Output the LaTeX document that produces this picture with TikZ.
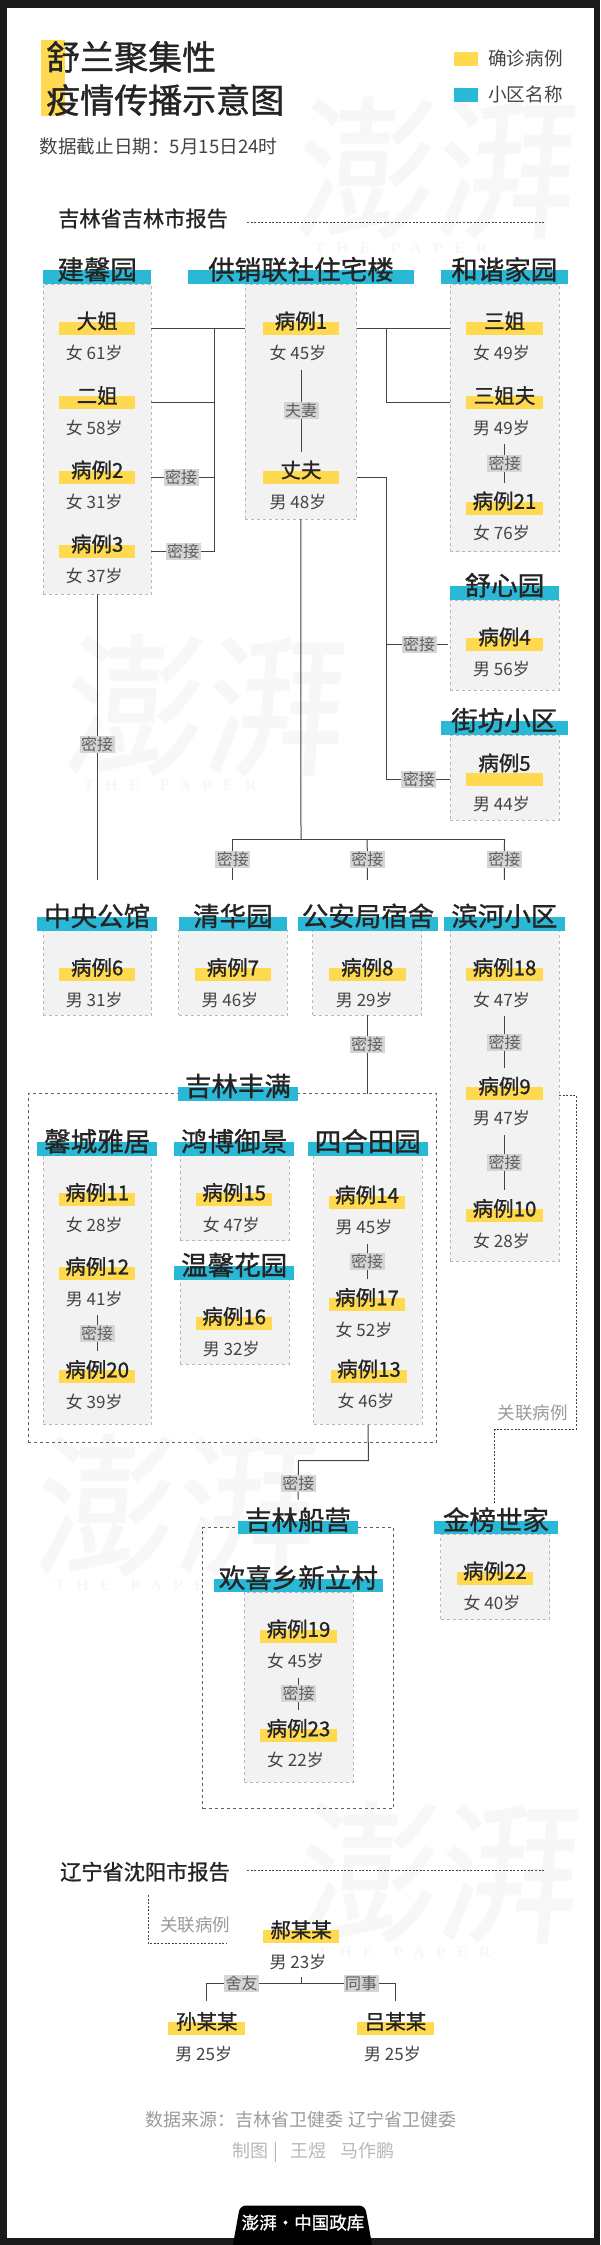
\documentclass[tikz,border=0pt]{standalone}
\usepackage{fontspec}
\setmainfont{Noto Sans CJK SC}
\newfontfamily\medfont[FakeBold=1.1]{Noto Sans CJK SC}
\newfontfamily\markfont[LetterSpace=70]{Liberation Serif}

\definecolor{frameblack}{HTML}{1A1A1A}
\definecolor{caseyellow}{HTML}{FFD94F}
\definecolor{estatecyan}{HTML}{29B9D7}
\definecolor{panelgray}{HTML}{F2F2F2}
\definecolor{tagsgray}{HTML}{D5D5D5}
\definecolor{inkdark}{HTML}{242424}
\definecolor{inkmid}{HTML}{444444}
\definecolor{inkfoot}{HTML}{9A9A9A}
\definecolor{watermark}{HTML}{F7F7F7}

\tikzset{
  casebar/.style={fill=caseyellow, minimum width=76.5pt, minimum height=13pt, inner sep=0pt, outer sep=0pt},
  casename/.style={text=inkdark, inner sep=0pt, text height=18pt, text depth=2.5pt, font=\medfont\fontsize{20.5}{20.5}\selectfont},
  caseinfo/.style={text=inkmid, inner sep=0pt, text height=15pt, text depth=2pt, font=\fontsize{17}{17}\selectfont},
  estatebar/.style={fill=estatecyan, minimum height=13.6pt, inner sep=0pt, outer sep=0pt},
  estatename/.style={text=inkdark, inner sep=0pt, text height=24pt, text depth=3.3pt, font=\medfont\fontsize{26.5}{26.5}\selectfont},
  casepanel/.style={fill=panelgray, draw=black!28, dashed, line width=.8pt, anchor=north, inner sep=0pt, outer sep=0pt},
  groupbox/.style={draw=black!62, dashed, line width=.9pt, anchor=north, inner sep=0pt, outer sep=0pt},
  link/.style={draw=inkmid, line width=1pt},
  innerlink/.style={link, shorten <=8pt, shorten >=8pt},
  dotlink/.style={draw=inkmid, line width=1pt, dash pattern=on 2pt off 1.6pt},
  reltag/.style={fill=tagsgray, text=inkmid!85, inner xsep=1.5pt, inner ysep=.5pt, text height=14pt, text depth=2pt, font=\fontsize{16}{16}\selectfont},
  sectionname/.style={text=inkdark, inner sep=0pt, text height=18.5pt, text depth=2.5pt, font=\medfont\fontsize{21.2}{21.2}\selectfont},
  plaintext/.style={inner sep=0pt, text height=16pt, text depth=2.4pt, font=\fontsize{18.6}{18.6}\selectfont}
}

% one blue name bar with its name
\newcommand{\estate}[5][8]{
  \node[estatebar, minimum width=#4] (#2) at (#3) {};
  \node[estatename] (#2t) at ([yshift=#1pt]#2) {#5};
}
% one yellow bar with name and sex, age
\newcommand{\patient}[6][7]{
  \node[casebar] (#2) at (#3,#4) {};
  \node[casename] (#2t) at (#3,#4-#1) {#5};
  \node[caseinfo] (#2i) at (#3-3,#4+25) {#6};
}
% brush mark in the background
\newcommand{\papermark}[3]{
  \node[text=watermark, inner sep=0pt, xslant=.08, yscale=1.1, font=\medfont\fontsize{140}{140}\selectfont] (#1) at (#2,#3) {澎湃};
  \node[text=watermark, inner sep=0pt, font=\markfont\bfseries\fontsize{16}{16}\selectfont] (#1s) at (#2-36,#3+80) {THE\hspace{20pt}PAPER};
}

\begin{document}
\begin{tikzpicture}[x=1pt,y=-1pt]
  \useasboundingbox (0,0) rectangle (600,2245);
  \fill[frameblack] (0,0) rectangle (600,2245);
  \fill[white] (7,8) rectangle (594,2238);

  \papermark{markA}{437}{168}
  \papermark{markB}{206}{705}
  \papermark{markC}{177}{1505}
  \papermark{markD}{440}{1872}

  % title and legend
  \fill[caseyellow] (40.5,40) rectangle (64.5,116);
  \node[inner sep=0pt, anchor=west, text=inkdark, font=\medfont\fontsize{34}{34}\selectfont] (titleA) at (46,57) {舒兰聚集性};
  \node[inner sep=0pt, anchor=west, text=inkdark, font=\medfont\fontsize{34}{34}\selectfont] (titleB) at (46,100) {疫情传播示意图};
  \node[plaintext, text=inkmid, anchor=west] (dateline) at (39.5,147) {数据截止日期：5月15日24时};
  \node[fill=caseyellow, minimum width=24pt, minimum height=13.6pt, inner sep=0pt] (keyA) at (466,59) {};
  \node[plaintext, text=inkmid, anchor=west] (keyAt) at (488,59) {确诊病例};
  \node[fill=estatecyan, minimum width=24pt, minimum height=13.6pt, inner sep=0pt] (keyB) at (466,95) {};
  \node[plaintext, text=inkmid, anchor=west] (keyBt) at (488,95) {小区名称};

  % Jilin city
  \node[sectionname, anchor=west] (jilin) at (58,218.5) {吉林省吉林市报告};
  \coordinate (jilinA) at (247,222);
  \coordinate (jilinB) at (545,222);
  \draw[dotlink, line width=.9pt] (jilinA) -- (jilinB);

  % groups
  \node[groupbox, minimum width=408.3pt, minimum height=349pt] (fengman) at (232.2,1093.3) {};
  \node[groupbox, minimum width=190.6pt, minimum height=281pt] (chuanying) at (298.1,1527.5) {};

  % panels
  \node[casepanel, minimum width=108.5pt, minimum height=310pt] (jxyp) at (97.2,284) {};
  \node[casepanel, minimum width=111.7pt, minimum height=235pt] (gxp) at (300.9,284) {};
  \node[casepanel, minimum width=109pt, minimum height=267.5pt] (hxp) at (504.5,284) {};
  \node[casepanel, minimum width=109pt, minimum height=90pt] (sxp) at (504.5,600) {};
  \node[casepanel, minimum width=109pt, minimum height=85pt] (jfp) at (504.5,735) {};
  \node[casepanel, minimum width=108.5pt, minimum height=84.3pt] (zyp) at (97.2,930.7) {};
  \node[casepanel, minimum width=108.5pt, minimum height=84.3pt] (qhp) at (232.9,930.7) {};
  \node[casepanel, minimum width=109pt, minimum height=84.3pt] (gap) at (367.2,930.7) {};
  \node[casepanel, minimum width=109pt, minimum height=330.3pt] (bhp) at (504.5,930.7) {};
  \node[casepanel, minimum width=108.5pt, minimum height=268.6pt] (xcp) at (97.2,1155.7) {};
  \node[casepanel, minimum width=108.7pt, minimum height=85pt] (hbp) at (234.6,1155.7) {};
  \node[casepanel, minimum width=108.7pt, minimum height=85pt] (wxp) at (234.6,1279.3) {};
  \node[casepanel, minimum width=108.5pt, minimum height=268.6pt] (shp) at (368,1155.7) {};
  \node[casepanel, minimum width=108.9pt, minimum height=190.4pt] (hxcp) at (298.5,1592) {};
  \node[casepanel, minimum width=108.7pt, minimum height=85.3pt] (jbp) at (495.2,1534.3) {};

  % name bars
  \estate{jxy}{97.2,277.2}{108.5pt}{建馨园}
  \estate{gx}{301,277.2}{226pt}{供销联社住宅楼}
  \estate{hx}{504.3,277.2}{127.5pt}{和谐家园}
  \estate{sx}{504.5,593}{109pt}{舒心园}
  \estate{jf}{504.3,728}{127.5pt}{街坊小区}
  \estate{zy}{97.2,923.7}{120pt}{中央公馆}
  \estate{qh}{232.9,923.7}{108.5pt}{清华园}
  \estate{ga}{368,923.7}{140pt}{公安局宿舍}
  \estate{bh}{504.4,923.7}{120.5pt}{滨河小区}
  \estate{fm}{238,1093.7}{120pt}{吉林丰满}
  \estate{xc}{97.2,1149}{120pt}{馨城雅居}
  \estate{hb}{234.2,1149}{120pt}{鸿博御景}
  \estate{wx}{234.2,1272.7}{120pt}{温馨花园}
  \estate{sh}{367.8,1149}{120pt}{四合田园}
  \estate{cy}{298,1527.5}{120pt}{吉林船营}
  \estate{hxc}{298.3,1585.4}{168.7pt}{欢喜乡新立村}
  \estate{jb}{496,1527.5}{124pt}{金榜世家}

  % cases
  \patient{dajie}{97.2}{328}{大姐}{女 61岁}
  \patient{erjie}{97.2}{402.6}{二姐}{女 58岁}
  \patient{caseB}{97.2}{477}{病例2}{女 31岁}
  \patient{caseC}{97.2}{551}{病例3}{女 37岁}
  \patient{caseA}{301}{328}{病例1}{女 45岁}
  \patient{zhangfu}{301}{477}{丈夫}{男 48岁}
  \patient{sanjie}{504.5}{328}{三姐}{女 49岁}
  \patient{sanjiefu}{504.5}{402.6}{三姐夫}{男 49岁}
  \patient{caseU}{504.5}{508}{病例21}{女 76岁}
  \patient{caseD}{504.5}{644}{病例4}{男 56岁}
  \patient[16]{caseE}{504.5}{779}{病例5}{男 44岁}
  \patient{caseF}{97.2}{974.5}{病例6}{男 31岁}
  \patient{caseG}{232.9}{974.5}{病例7}{男 46岁}
  \patient{caseH}{367.3}{974.5}{病例8}{男 29岁}
  \patient{caseR}{504.5}{974.5}{病例18}{女 47岁}
  \patient{caseI}{504.5}{1093.3}{病例9}{男 47岁}
  \patient{caseJ}{504.5}{1215.5}{病例10}{女 28岁}
  \patient{caseK}{97.2}{1199.5}{病例11}{女 28岁}
  \patient{caseL}{97.2}{1273.5}{病例12}{男 41岁}
  \patient{caseT}{97.2}{1376.5}{病例20}{女 39岁}
  \patient{caseO}{234.2}{1199.5}{病例15}{女 47岁}
  \patient{caseP}{234.2}{1323.5}{病例16}{男 32岁}
  \patient{caseN}{367}{1202}{病例14}{男 45岁}
  \patient{caseQ}{367}{1304.5}{病例17}{女 52岁}
  \patient{caseM}{369}{1376}{病例13}{女 46岁}
  \patient{caseS}{298.5}{1636}{病例19}{女 45岁}
  \patient{caseW}{298.5}{1735.4}{病例23}{女 22岁}
  \patient{caseV}{495}{1578}{病例22}{女 40岁}

  % Jianxinyuan and Gongxiao links
  \draw[link] (jxyp.east |- dajie) -- (gxp.west |- dajie);
  \coordinate (leftrail) at (214.7,328);
  \draw[link] (leftrail) -- (leftrail |- caseC) -- node[reltag, pos=.5]{密接} (jxyp.east |- caseC);
  \draw[link] (jxyp.east |- erjie) -- (leftrail |- erjie);
  \draw[link] (jxyp.east |- caseB) -- node[reltag, pos=.47]{密接} (leftrail |- caseB);
  \draw[innerlink] (caseAi.south -| caseA) -- node[reltag, pos=.5]{夫妻} (zhangfut.north);
  \draw[link] (gxp.east |- sanjie) -- (hxp.west |- sanjie);
  \coordinate (rightrail) at (386.5,328);
  \draw[link] (rightrail) -- (rightrail |- sanjiefu) -- (hxp.west |- sanjiefu);
  \draw[innerlink] (sanjiefui.south -| sanjiefu) -- node[reltag, pos=.5]{密接} (caseUt.north);

  % from the husband
  \coordinate (lowrail) at (386.5,477);
  \draw[link] (gxp.east |- zhangfu) -- (lowrail) -- (lowrail |- caseE) -- node[reltag, pos=.51]{密接} (jfp.west |- caseE);
  \draw[link] (lowrail |- caseD) -- node[reltag, pos=.53]{密接} ([xshift=-2pt]sxp.west |- caseD);
  \coordinate (fork) at (301,839.3);
  \draw[link] (gxp.south) -- (fork);
  \draw[link] (fork -| qhp) -- (fork -| bhp);
  \draw[link] (fork -| qhp) -- node[reltag, pos=.5]{密接} ([yshift=22pt]qht.north);
  \draw[link] (fork -| gap) -- node[reltag, pos=.5]{密接} ([xshift=-.6pt,yshift=22pt]gat.north);
  \draw[link] (fork -| bhp) -- node[reltag, pos=.5]{密接} ([yshift=22pt]bht.north);
  \draw[link] (jxyp.south) -- node[reltag, pos=.525]{密接} ([yshift=22pt]zyt.north);

  % down to Fengman and Chuanying
  \draw[link] (gap.south) -- node[reltag, pos=.38]{密接} ([yshift=-8pt]gap.south |- fmt);
  \draw[innerlink] (caseRi.south -| caseR) -- node[reltag, pos=.5]{密接} (caseIt.north);
  \draw[innerlink] (caseIi.south -| caseI) -- node[reltag, pos=.5]{密接} (caseJt.north);
  \draw[innerlink] (caseLi.south -| caseL) -- node[reltag, pos=.5]{密接} (caseTt.north);
  \draw[innerlink] (caseNi.south -| caseN) -- node[reltag, pos=.5]{密接} (caseQt.north);
  \draw[innerlink] (caseSi.south -| caseS) -- node[reltag, pos=.5]{密接} (caseWt.north);
  \coordinate (bend) at (368.5,1460.7);
  \coordinate (bendB) at (298.5,1460.7);
  \draw[link, shorten >=6pt] (shp.south) -- (bend) -- (bendB) -- node[reltag, pos=.5]{密接} (cyt.north);

  % related case
  \coordinate (dotA) at (576,1095.3);
  \coordinate (dotB) at (576,1429.3);
  \coordinate (dotC) at (494.8,1429.3);
  \coordinate (dotD) at (494.8,1503.3);
  \draw[dotlink] (bhp.east |- dotA) -- (dotA) -- (dotB) -- (dotC) -- (dotD);
  \node[plaintext, text=inkfoot, font=\fontsize{17.5}{17.5}\selectfont] (relA) at (532.6,1412.7) {关联病例};

  % Shenyang
  \node[sectionname, anchor=west] (shenyang) at (60,1871.8) {辽宁省沈阳市报告};
  \coordinate (syA) at (247,1870);
  \coordinate (syB) at (545,1870);
  \draw[dotlink, line width=.9pt] (syA) -- (syB);
  \patient{hao}{301}{1936.8}{郝某某}{男 23岁}
  \patient{sun}{206.7}{2028.5}{孙某某}{男 25岁}
  \patient{lv}{395.5}{2028.5}{吕某某}{男 25岁}
  \coordinate (relB) at (148,1895);
  \coordinate (relC) at (148,1943.3);
  \coordinate (relD) at (225.8,1943.3);
  \draw[dotlink] (relB) -- (relC) -- (relD);
  \node[plaintext, text=inkfoot, font=\fontsize{17.5}{17.5}\selectfont] (relE) at (195,1924.5) {关联病例};
  \coordinate (haojoin) at (301,1983.8);
  \draw[link, shorten <=6pt] (haoi.south -| hao) -- (haojoin);
  \draw[link, shorten >=10pt] (haojoin) -- node[reltag, pos=.63]{舍友} (haojoin -| sun) -- (sunt.north);
  \draw[link, shorten >=10pt] (haojoin) -- node[reltag, pos=.635]{同事} (haojoin -| lv) -- (lvt.north);

  % footer
  \node[plaintext, text=inkfoot, font=\fontsize{18}{18}\selectfont] (source) at (301,2120) {数据来源：吉林省卫健委 辽宁省卫健委};
  \node[plaintext, text=black!28, font=\fontsize{18}{18}\selectfont] (credit) at (313.4,2150.6) {制图\hspace{5pt}|\hspace{12pt}王煜\hspace{14pt}马作鹏};
  \fill[black, rounded corners=6pt] (232,2250) -- (240,2205.5) -- (365,2205.5) -- (373,2250) -- cycle;
  \node[text=white, inner sep=0pt, font=\medfont\fontsize{17.5}{17.5}\selectfont] (logo) at (303,2222.6) {澎湃·中国政库};
\end{tikzpicture}
\end{document}
